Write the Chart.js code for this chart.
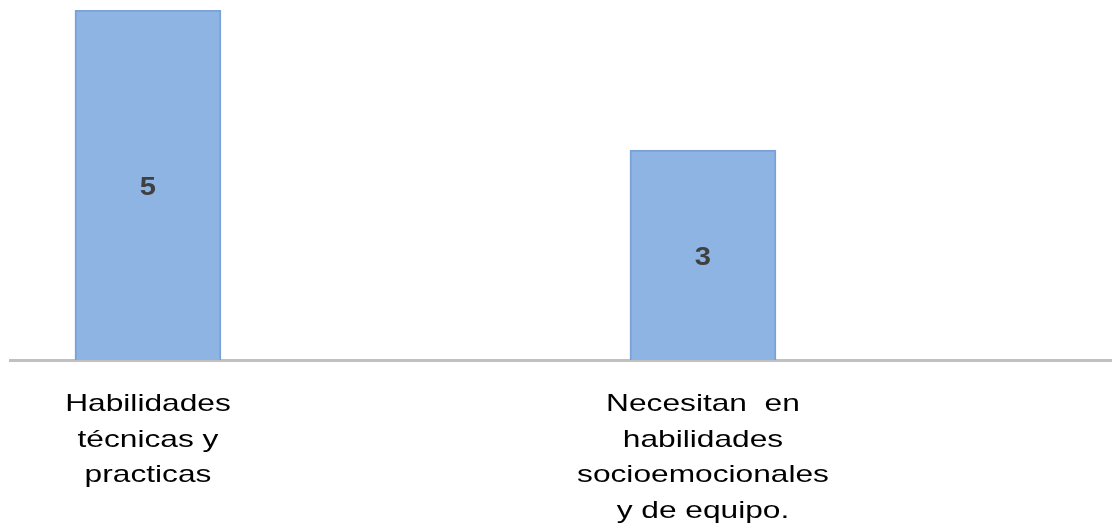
<!DOCTYPE html>
<html>
<head>
<meta charset="utf-8">
<script src="https://cdn.jsdelivr.net/npm/chart.js@4/dist/chart.umd.min.js"></script>
<style>
  body { margin: 0; background: #fff; }
  canvas { display: block; }
</style>
</head>
<body>
<canvas id="chart" width="1112" height="529"></canvas>
<script>
// données
const categories = [
  ["Habilidades", "técnicas y", "practicas"],
  ["Necesitan  en", "habilidades", "socioemocionales", "y de equipo."]
];
const values = [5, 3];

const FONT = "'Liberation Sans', Arial, sans-serif";
const STRETCH = 1.32; // texte étiré horizontalement comme dans l'original

// texte étiré, centré sur x
function stretchedText(ctx, txt, x, y, sx) {
  ctx.save();
  ctx.translate(x, y);
  ctx.scale(sx, 1);
  ctx.fillText(txt, 0, 0);
  ctx.restore();
}

// étiquettes : valeurs dans les barres + catégories sous l'axe
const labelsPlugin = {
  id: "labelsPlugin",
  afterDatasetsDraw(chart) {
    const ctx = chart.ctx;
    const meta = chart.getDatasetMeta(0);
    const xScale = chart.scales.x;
    ctx.save();
    ctx.textAlign = "center";
    ctx.textBaseline = "alphabetic";

    // valeurs
    ctx.font = "bold 26px " + FONT;
    ctx.fillStyle = "#404040";
    meta.data.forEach((bar, i) => {
      const y = (bar.y + bar.base) / 2 + 9.5;
      stretchedText(ctx, String(values[i]), bar.x, y, 1.12);
    });

    // catégories
    ctx.font = "24px " + FONT;
    ctx.fillStyle = "#000";
    const firstBaseline = xScale.top + 51;
    const lineGap = 35.6;
    categories.forEach((lines, i) => {
      const x = xScale.getPixelForValue(i);
      lines.forEach((line, j) => {
        stretchedText(ctx, line, x, firstBaseline + j * lineGap, STRETCH);
      });
    });
    ctx.restore();
  }
};

new Chart(document.getElementById("chart"), {
  type: "bar",
  data: {
    datasets: [{
      data: categories.map((c, i) => ({ x: i, y: values[i] })),
      backgroundColor: "#8eb4e3",
      borderColor: "#7aa2d9",
      borderWidth: 2,
      barThickness: 146
    }]
  },
  options: {
    responsive: false,
    animation: false,
    layout: { padding: { left: 10, right: 0, top: 10, bottom: 0 } },
    plugins: { legend: { display: false }, tooltip: { enabled: false } },
    scales: {
      x: {
        type: "linear",
        offset: false,
        min: -0.2486,
        max: 1.737,
        grid: { display: false },
        border: { display: true, color: "#c0c0c0", width: 3 },
        afterFit: (scale) => { scale.height = 169; },
        ticks: { display: false }
      },
      y: {
        display: false,
        min: 0,
        max: 5
      }
    }
  },
  plugins: [labelsPlugin]
});
</script>
</body>
</html>
